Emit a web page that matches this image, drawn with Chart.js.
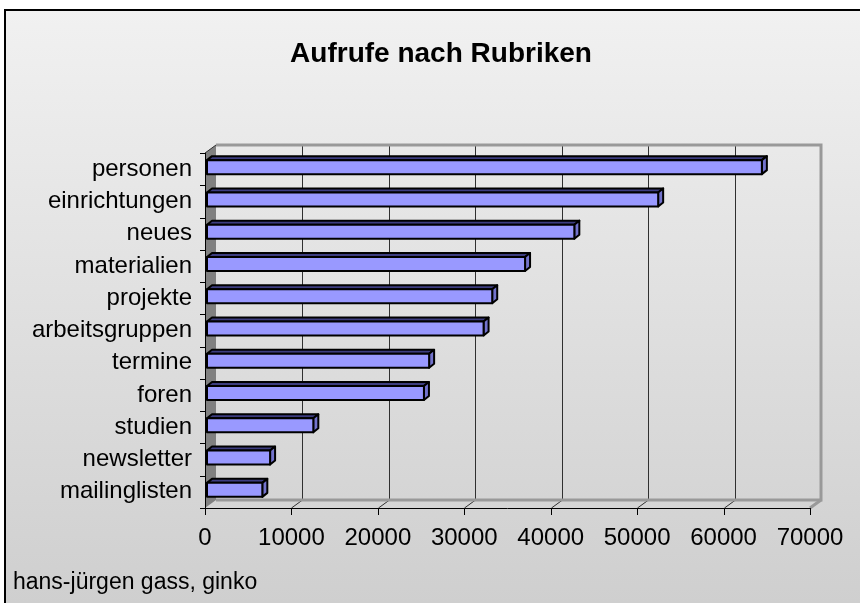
<!DOCTYPE html>
<html>
<head>
<meta charset="utf-8">
<title>Aufrufe nach Rubriken</title>
<script src="https://cdn.jsdelivr.net/npm/chart.js@4"></script>
<style>
    html, body { margin: 0; padding: 0; background: #ffffff; }
    #chartBox { width: 860px; height: 603px; }
</style>
</head>
<body>
<div id="chartBox"><canvas id="rubrikenChart" width="860" height="603"></canvas></div>
<script>
// Data
var categories = ['personen', 'einrichtungen', 'neues', 'materialien', 'projekte', 'arbeitsgruppen',
    'termine', 'foren', 'studien', 'newsletter', 'mailinglisten'];
var aufrufe = [64200, 52200, 42500, 36800, 33000, 32000, 25700, 25100, 12300, 7300, 6400];
var xTicks = [0, 10000, 20000, 30000, 40000, 50000, 60000, 70000];
var chartTitle = 'Aufrufe nach Rubriken';
var footerText = 'hans-jürgen gass, ginko';

var FONT = '"Liberation Sans", Arial, sans-serif';
var DEPTH_X = 11, DEPTH_Y = -8;   // back wall offset
var BAR_X = 2, BAR_Y = -2;        // bar plane offset
var BAR_DX = 5, BAR_DY = -4;      // bar depth

// Background, walls, grid and axes of the 3d look
var backdropPlugin = {
    id: 'backdrop',
    beforeDraw: function(chart) {
        var ctx = chart.ctx;
        var area = chart.chartArea;
        var xs = chart.scales.x;
        ctx.save();

        // page and chart background
        ctx.fillStyle = '#ffffff';
        ctx.fillRect(0, 0, chart.width, chart.height);
        var grad = ctx.createLinearGradient(0, 10, 0, chart.height);
        grad.addColorStop(0, '#f1f1f1');
        grad.addColorStop(1, '#cfcfcf');
        ctx.fillStyle = grad;
        ctx.fillRect(5, 10, chart.width, chart.height);
        ctx.strokeStyle = '#000000';
        ctx.lineWidth = 2;
        ctx.strokeRect(5, 10, chart.width + 20, chart.height + 20);

        var L = area.left, R = area.right, T = area.top, B = area.bottom;

        // left side wall
        ctx.fillStyle = '#808080';
        ctx.beginPath();
        ctx.moveTo(L, T);
        ctx.lineTo(L + DEPTH_X, T + DEPTH_Y);
        ctx.lineTo(L + DEPTH_X, B + DEPTH_Y);
        ctx.lineTo(L, B);
        ctx.closePath();
        ctx.fill();

        // gridlines on back wall and floor
        ctx.strokeStyle = '#303030';
        ctx.lineWidth = 1;
        xTicks.forEach(function(v) {
            var fx = Math.round(xs.getPixelForValue(v)) + 0.5;
            if (v > xs.min && v < xs.max) {
                ctx.beginPath();
                ctx.moveTo(fx + DEPTH_X, T + DEPTH_Y);
                ctx.lineTo(fx + DEPTH_X, B + DEPTH_Y);
                ctx.stroke();
            }
            if (v > xs.min) {
                ctx.beginPath();
                ctx.moveTo(fx, B);
                ctx.lineTo(fx + DEPTH_X, B + DEPTH_Y);
                ctx.stroke();
            }
        });

        // back wall edges
        ctx.strokeStyle = '#999999';
        ctx.lineWidth = 3;
        ctx.beginPath();
        ctx.moveTo(L + DEPTH_X, T + DEPTH_Y);
        ctx.lineTo(R + DEPTH_X, T + DEPTH_Y);
        ctx.lineTo(R + DEPTH_X, B + DEPTH_Y);
        ctx.lineTo(L + DEPTH_X, B + DEPTH_Y);
        ctx.stroke();
        ctx.beginPath();
        ctx.moveTo(R, B);
        ctx.lineTo(R + DEPTH_X, B + DEPTH_Y);
        ctx.stroke();

        // wall top edge
        ctx.strokeStyle = '#303030';
        ctx.lineWidth = 1;
        ctx.beginPath();
        ctx.moveTo(L, T);
        ctx.lineTo(L + DEPTH_X, T + DEPTH_Y);
        ctx.stroke();

        // front x axis with ticks
        ctx.strokeStyle = '#000000';
        ctx.beginPath();
        ctx.moveTo(L, B + 0.5);
        ctx.lineTo(R, B + 0.5);
        xTicks.forEach(function(v) {
            var fx = Math.round(xs.getPixelForValue(v)) + 0.5;
            ctx.moveTo(fx, B);
            ctx.lineTo(fx, B + 7);
        });
        ctx.stroke();

        // y axis with ticks between categories
        ctx.beginPath();
        ctx.moveTo(L + 0.5, T);
        ctx.lineTo(L + 0.5, B);
        var band = (B - T) / categories.length;
        for (var i = 0; i <= categories.length; i++) {
            var ty = Math.round(T + band * i) + 0.5;
            ctx.moveTo(L - 5, ty);
            ctx.lineTo(L, ty);
        }
        ctx.stroke();

        // title
        ctx.fillStyle = '#000000';
        ctx.font = 'bold 28px ' + FONT;
        ctx.textAlign = 'center';
        ctx.textBaseline = 'alphabetic';
        ctx.fillText(chartTitle, 441, 62);

        ctx.restore();
    },
    afterDatasetsDraw: function(chart) {
        // draw bars as boxes from the bar elements
        var ctx = chart.ctx;
        var meta = chart.getDatasetMeta(0);
        ctx.save();
        ctx.lineJoin = 'round';
        ctx.strokeStyle = '#000000';
        ctx.lineWidth = 2;
        meta.data.forEach(function(bar) {
            var p = bar.getProps(['x', 'y', 'base', 'height'], true);
            var l = p.base + BAR_X;
            var r = p.x + BAR_X;
            var t = p.y - p.height / 2 + BAR_Y;
            var b = p.y + p.height / 2 + BAR_Y;

            // top face
            ctx.fillStyle = '#3d3d80';
            ctx.beginPath();
            ctx.moveTo(l, t);
            ctx.lineTo(l + BAR_DX, t + BAR_DY);
            ctx.lineTo(r + BAR_DX, t + BAR_DY);
            ctx.lineTo(r, t);
            ctx.closePath();
            ctx.fill();
            ctx.stroke();

            // right face
            ctx.fillStyle = '#7373cc';
            ctx.beginPath();
            ctx.moveTo(r, t);
            ctx.lineTo(r + BAR_DX, t + BAR_DY);
            ctx.lineTo(r + BAR_DX, b + BAR_DY);
            ctx.lineTo(r, b);
            ctx.closePath();
            ctx.fill();
            ctx.stroke();

            // front face
            ctx.fillStyle = '#9999ff';
            ctx.fillRect(l, t, r - l, b - t);
            ctx.strokeRect(l, t, r - l, b - t);
        });
        ctx.restore();
    },
    afterDraw: function(chart) {
        var ctx = chart.ctx;
        ctx.save();
        ctx.fillStyle = '#000000';
        ctx.font = '23px ' + FONT;
        ctx.textAlign = 'left';
        ctx.textBaseline = 'alphabetic';
        ctx.fillText(footerText, 13, 589);
        ctx.restore();
    }
};

function createRubrikenChart() {
    var ctx = document.getElementById('rubrikenChart').getContext('2d');
    var chart = new Chart(ctx, {
        type: 'bar',
        data: {
            labels: categories,
            datasets: [{
                label: 'Aufrufe',
                data: aufrufe,
                backgroundColor: 'rgba(0,0,0,0)',
                borderWidth: 0,
                barThickness: 14
            }]
        },
        options: {
            indexAxis: 'y',
            responsive: false,
            animation: false,
            layout: {
                padding: { left: 0, right: 50, top: 153, bottom: 0 }
            },
            plugins: {
                legend: { display: false },
                tooltip: { enabled: false },
                title: { display: false }
            },
            scales: {
                x: {
                    min: 0,
                    max: 70000,
                    grid: { display: false, drawTicks: false },
                    border: { display: false },
                    afterBuildTicks: function(scale) {
                        scale.ticks = xTicks.map(function(v) { return { value: v }; });
                    },
                    afterFit: function(scale) { scale.height = 95; },
                    ticks: {
                        color: '#000000',
                        padding: 16,
                        maxRotation: 0,
                        autoSkip: false,
                        font: { family: FONT, size: 24 },
                        callback: function(value) { return String(value); }
                    }
                },
                y: {
                    grid: { display: false, drawTicks: false },
                    border: { display: false },
                    afterFit: function(scale) { scale.width = 205; },
                    ticks: {
                        color: '#000000',
                        padding: 13,
                        autoSkip: false,
                        font: { family: FONT, size: 24 }
                    }
                }
            }
        },
        plugins: [backdropPlugin]
    });
}

createRubrikenChart();
</script>
</body>
</html>
